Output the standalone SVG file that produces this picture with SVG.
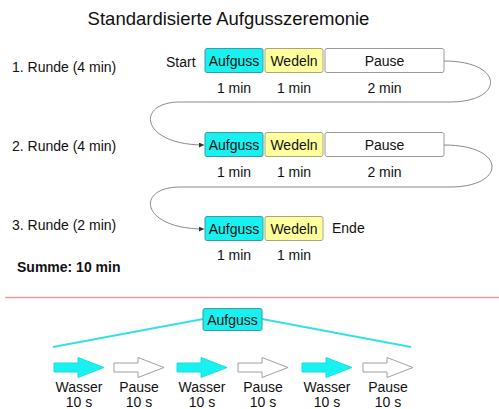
<svg xmlns="http://www.w3.org/2000/svg" width="499" height="409" viewBox="0 0 499 409">
<defs>
<marker id="ah" viewBox="0 0 10 10" refX="10" refY="5" markerWidth="5" markerHeight="5" orient="auto" markerUnits="userSpaceOnUse">
<path d="M0,0 L10,5 L0,10 z" fill="#333"/>
</marker>
<path id="arr" d="M0,-4.5 L24,-4.5 L24,-10 L50,0 L24,10 L24,4.5 L0,4.5 z"/>
</defs>
<style>
text{font-family:"Liberation Sans",Arial,sans-serif;font-size:14px;fill:#111}
.c{text-anchor:middle}
.aq{fill:#19f0f0;stroke:#3a9c9c;stroke-width:1}
.wd{fill:#ffff9e;stroke:#a8a880;stroke-width:1}
.pz{fill:#fff;stroke:#9a9a9a;stroke-width:1}
.con{fill:none;stroke:#8a8a8a;stroke-width:1}
.cy{fill:none;stroke:#33e0e8;stroke-width:2}
.ca{fill:#19f0f0;stroke:#19e0e0;stroke-width:1}
.wa{fill:#fff;stroke:#a0a0a0;stroke-width:1}
</style>
<rect width="499" height="409" fill="#fff"/>
<text x="228.5" y="25" class="c" style="font-size:18.5px">Standardisierte Aufgusszeremonie</text>

<g id="labels">
<text x="12" y="71.5">1. Runde (4 min)</text>
<text x="12" y="151">2. Runde (4 min)</text>
<text x="12" y="230">3. Runde (2 min)</text>
<text x="17" y="272" style="font-weight:bold">Summe: 10 min</text>
<text x="166" y="66.5">Start</text>
<text x="332" y="232.5">Ende</text>
</g>

<g id="row1">
<rect x="205" y="48.5" width="58" height="24" rx="2" class="aq"/>
<text x="234" y="65.5" class="c">Aufguss</text>
<rect x="265" y="48.5" width="58" height="24" rx="2" class="wd"/>
<text x="294" y="65.5" class="c">Wedeln</text>
<rect x="325" y="48.5" width="119" height="24" rx="2" class="pz"/>
<text x="384.5" y="65.5" class="c">Pause</text>
<text x="234" y="93" class="c">1 min</text>
<text x="294" y="93" class="c">1 min</text>
<text x="384.5" y="93" class="c">2 min</text>
</g>

<g id="row2">
<rect x="205" y="132.5" width="58" height="24" rx="2" class="aq"/>
<text x="234" y="149.5" class="c">Aufguss</text>
<rect x="265" y="132.5" width="58" height="24" rx="2" class="wd"/>
<text x="294" y="149.5" class="c">Wedeln</text>
<rect x="325" y="132.5" width="119" height="24" rx="2" class="pz"/>
<text x="384.5" y="149.5" class="c">Pause</text>
<text x="234" y="177" class="c">1 min</text>
<text x="294" y="177" class="c">1 min</text>
<text x="384.5" y="177" class="c">2 min</text>
</g>

<g id="row3">
<rect x="205" y="216.5" width="58" height="24" rx="2" class="aq"/>
<text x="234" y="233.5" class="c">Aufguss</text>
<rect x="265" y="216.5" width="58" height="24" rx="2" class="wd"/>
<text x="294" y="233.5" class="c">Wedeln</text>
<text x="234" y="260" class="c">1 min</text>
<text x="294" y="260" class="c">1 min</text>
</g>

<g id="connectors">
<path class="con" marker-end="url(#ah)" d="M444,61 C505,61 505,102 450,102 L180,102 C135,102 140,145 204,145"/>
<path class="con" marker-end="url(#ah)" d="M444,145 C507,145 507,187 450,187 L180,187 C135,187 140,229 204,229"/>
</g>

<line x1="5" y1="297.5" x2="499" y2="297.5" stroke="#e99a9a" stroke-width="1.3"/>

<g id="detail">
<line x1="203" y1="319" x2="53" y2="347" class="cy"/>
<line x1="262" y1="319" x2="411" y2="347" class="cy"/>
<rect x="203" y="308.5" width="59" height="22" rx="2" class="aq"/>
<text x="232.5" y="324.5" class="c">Aufguss</text>
</g>

<g id="arrows">
<use href="#arr" x="54" y="367.5" class="ca"/>
<use href="#arr" x="114" y="367.5" class="wa"/>
<use href="#arr" x="177" y="367.5" class="ca"/>
<use href="#arr" x="238" y="367.5" class="wa"/>
<use href="#arr" x="302" y="367.5" class="ca"/>
<use href="#arr" x="363" y="367.5" class="wa"/>
<text x="79" y="392" class="c">Wasser</text>
<text x="79" y="407" class="c">10 s</text>
<text x="139" y="392" class="c">Pause</text>
<text x="139" y="407" class="c">10 s</text>
<text x="202" y="392" class="c">Wasser</text>
<text x="202" y="407" class="c">10 s</text>
<text x="263" y="392" class="c">Pause</text>
<text x="263" y="407" class="c">10 s</text>
<text x="327" y="392" class="c">Wasser</text>
<text x="327" y="407" class="c">10 s</text>
<text x="388" y="392" class="c">Pause</text>
<text x="388" y="407" class="c">10 s</text>
</g>
</svg>
